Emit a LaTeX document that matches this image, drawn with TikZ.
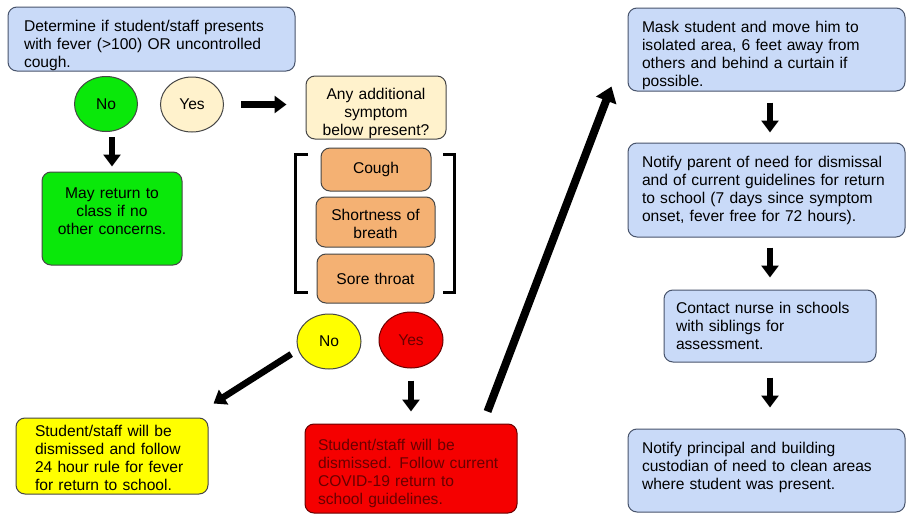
\documentclass[tikz,border=0pt]{standalone}
\usepackage{fontspec}
\setmainfont{Liberation Sans}
\usetikzlibrary{arrows.meta,shapes.geometric}
\definecolor{cvblue}{RGB}{201,218,248}
\definecolor{cvblueedge}{RGB}{72,84,108}
\definecolor{cvgreen}{RGB}{10,232,10}
\definecolor{cvcream}{RGB}{255,242,204}
\definecolor{cvorange}{RGB}{244,177,115}
\definecolor{cvyellow}{RGB}{255,255,0}
\definecolor{cvred}{RGB}{245,0,0}
\definecolor{cvdarkred}{RGB}{105,0,0}
\definecolor{cvedge}{RGB}{70,70,70}

\begin{document}
\begin{tikzpicture}[
  x=1pt, y=-1pt,
  font=\fontsize{15.6}{18}\selectfont,
  stepbox/.style={rectangle, rounded corners=9pt, draw=cvedge, line width=1pt, align=left, inner xsep=14pt, inner ysep=0pt},
  bluebox/.style={stepbox, draw=cvblueedge, fill=cvblue},
  centbox/.style={stepbox, align=center, inner xsep=6pt},
  droptext/.style={execute at begin node={\rule{0pt}{#1}}},
  lifttext/.style={execute at end node={\rule[-#1]{0pt}{#1}}},
  answer/.style={ellipse, draw=cvedge, line width=1pt, minimum width=63pt, minimum height=55pt, inner sep=0pt},
  arrow/.style={-{Triangle[length=12pt,width=17pt]}, line width=6.5pt, black},
  bigarrow/.style={-{Triangle[length=15pt,width=21pt]}, line width=8pt, black},
  bracket/.style={line width=3pt, black}
]
\useasboundingbox (0,0) rectangle (906,514);
\fill[white] (0,0) rectangle (906,514);

% First question and its answers
\node[bluebox, droptext=24pt, inner xsep=16pt, text width=255pt, minimum height=64pt] (q1) at (151.5,39) {Determine if student/staff presents\\with fever (>100) OR uncontrolled\\cough.};
\node[answer, fill=cvgreen] (nogreen) at (106,104) {No};
\node[answer, fill=cvcream] (yescream) at (192,104.5) {Yes};
\node[centbox, lifttext=14pt, fill=cvgreen, text width=128pt, minimum height=93pt] (gbox) at (112,218.5) {May return to\\class if no\\other concerns.};

% Second question and the symptoms
\node[centbox, droptext=23pt, fill=cvcream, text width=128pt, minimum height=63pt] (q2) at (376,107.5) {Any additional\\symptom\\below present?};
\node[centbox, fill=cvorange, text width=98pt, minimum height=43pt] (cough) at (376,169.5) {Cough};
\node[centbox, droptext=15.5pt, fill=cvorange, text width=107pt, minimum height=50pt] (sob) at (375.5,222) {Shortness of\\breath};
\node[centbox, fill=cvorange, text width=105pt, minimum height=49pt] (sore) at (375.5,278.5) {Sore throat};
\node[answer, fill=cvyellow, minimum width=64pt] (noyel) at (329,341.5) {No};
\node[answer, fill=cvred, draw=cvdarkred, text=cvdarkred, minimum width=64pt, minimum height=56pt] (yesred) at (411,340) {Yes};

% Outcomes
\node[stepbox, droptext=14.5pt, fill=cvyellow, inner xsep=19pt, text width=154pt, minimum height=76pt] (ybox) at (112,456) {Student/staff will be\\dismissed and follow\\24 hour rule for fever\\for return to school.};
\node[stepbox, droptext=21.5pt, fill=cvred, draw=cvdarkred, text=cvdarkred, inner xsep=13pt, text width=186pt, minimum height=89pt] (rbox) at (411,468.5) {Student/staff  will be\\dismissed. Follow current\\COVID-19 return to\\school guidelines.};

% Steps after dismissal
\node[bluebox, droptext=24pt, text width=249pt, minimum height=83pt] (mask) at (766.5,49.5) {Mask student and move him to\\isolated area, 6 feet away from\\others and behind a curtain if\\possible.};
\node[bluebox, text width=249pt, minimum height=94pt] (parent) at (766.5,190) {Notify parent of need for dismissal\\and of current guidelines for return\\to school (7 days since symptom\\onset, fever free for 72 hours).};
\node[bluebox, inner xsep=12pt, text width=188pt, minimum height=72pt] (nurse) at (770,326) {Contact nurse in schools\\with siblings for\\assessment.};
\node[bluebox, lifttext=9.5pt, text width=249pt, minimum height=83pt] (princ) at (766.5,470.5) {Notify principal and building\\custodian of need to clean areas\\where student was present.};

% Brackets round the symptoms
\draw[bracket] (308,154) -| (295,292) -- (308,292);
\draw[bracket] (443,154) -| (454,292) -- (443,292);

% Flow arrows
\draw[arrow, shorten <=5pt, shorten >=5pt] (gbox.north |- nogreen.south) -- (gbox.north);
\draw[arrow, shorten <=17pt, shorten >=19pt] (yescream.east) -- (yescream.east -| q2.west);
\draw[arrow, shorten <=8pt] (noyel.195) -- ([shift={(5,-14)}]ybox.north east);
\draw[arrow, shorten <=12pt, shorten >=12pt] (yesred.south) -- (rbox.north);
\draw[bigarrow] ([shift={(-30,-12)}]rbox.north east) -- ([shift={(-16,-5)}]mask.south west);
\draw[arrow, shorten <=11pt, shorten >=10pt] (mask.south -| nurse) -- (parent.north -| nurse);
\draw[arrow, shorten <=10pt, shorten >=12pt] (parent.south -| nurse) -- (nurse.north);
\draw[arrow, shorten <=15pt, shorten >=21pt] (nurse.south) -- (princ.north -| nurse);

\end{tikzpicture}
\end{document}
